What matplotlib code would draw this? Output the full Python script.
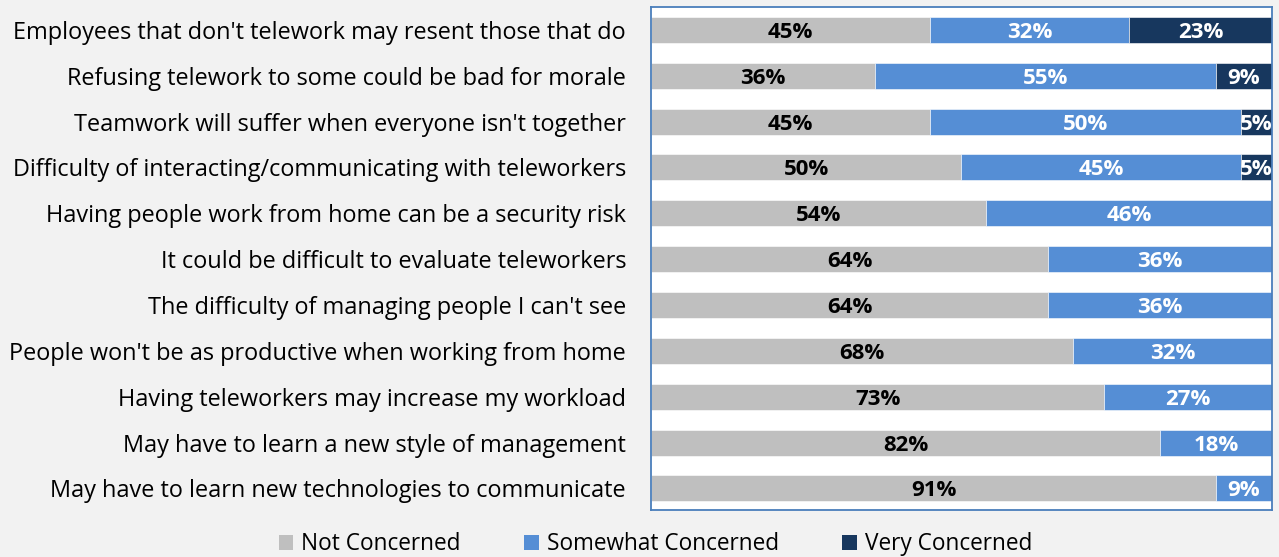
import matplotlib
matplotlib.use('Agg')
import matplotlib.pyplot as plt
from matplotlib.patches import Patch

# 管理者对远程办公的担忧（三档程度，百分比）
concerns = [
    "Employees that don't telework may resent those that do",
    "Refusing telework to some could be bad for morale",
    "Teamwork will suffer when everyone isn't together",
    "Difficulty of interacting/communicating with teleworkers",
    "Having people work from home can be a security risk",
    "It could be difficult to evaluate teleworkers",
    "The difficulty of managing people I can't see",
    "People won't be as productive when working from home",
    "Having teleworkers may increase my workload",
    "May have to learn a new style of management",
    "May have to learn new technologies to communicate",
]
not_concerned = [45, 36, 45, 50, 54, 64, 64, 68, 73, 82, 91]
somewhat_concerned = [32, 55, 50, 45, 46, 36, 36, 32, 27, 18, 9]
very_concerned = [23, 9, 5, 5, 0, 0, 0, 0, 0, 0, 0]

series_names = ['Not Concerned', 'Somewhat Concerned', 'Very Concerned']
color_list = ['#BFBFBF', '#558ED5', '#17375E']
text_colors = ['black', 'white', 'white']

plt.rcParams['font.family'] = ['Open Sans', 'DejaVu Sans']

fig = plt.figure(figsize=(12.79, 5.57), dpi=100)
fig.patch.set_facecolor('#F2F2F2')
ax = fig.add_axes([0.509, 0.0844, 0.4855, 0.903])

y = list(range(len(concerns)))
left = [0] * len(concerns)
for vals, c, tc in zip([not_concerned, somewhat_concerned, very_concerned], color_list, text_colors):
    bars = ax.barh(y, vals, left=left, height=0.567, color=c, edgecolor='white', linewidth=0.4)
    for i in range(len(vals)):
        if vals[i] > 0:
            ax.text(left[i] + vals[i] / 2, y[i], str(vals[i]) + '%', ha='center', va='center_baseline',
                    color=tc, fontsize=16, fontweight='bold')
    left = [left[i] + vals[i] for i in range(len(vals))]

ax.set_xlim(0, 100)
ax.set_ylim(10.47, -0.5)
ax.set_xticks([])
ax.set_yticks(y)
ax.set_yticklabels(concerns, fontsize=16.9)
ax.tick_params(axis='y', length=0, pad=18)
for s in ax.spines.values():
    s.set_color('#4A7EBB')
    s.set_linewidth(1.3)

handles = [Patch(facecolor=c, edgecolor='none') for c in color_list]
fig.legend(handles, series_names, loc='center', bbox_to_anchor=(0.5125, 0.023), ncol=3,
           frameon=False, fontsize=16.3, handlelength=0.65, handleheight=0.65,
           handletextpad=0.35, columnspacing=2.8, borderpad=0, borderaxespad=0)

plt.savefig('out.png', dpi=100, facecolor=fig.get_facecolor())
